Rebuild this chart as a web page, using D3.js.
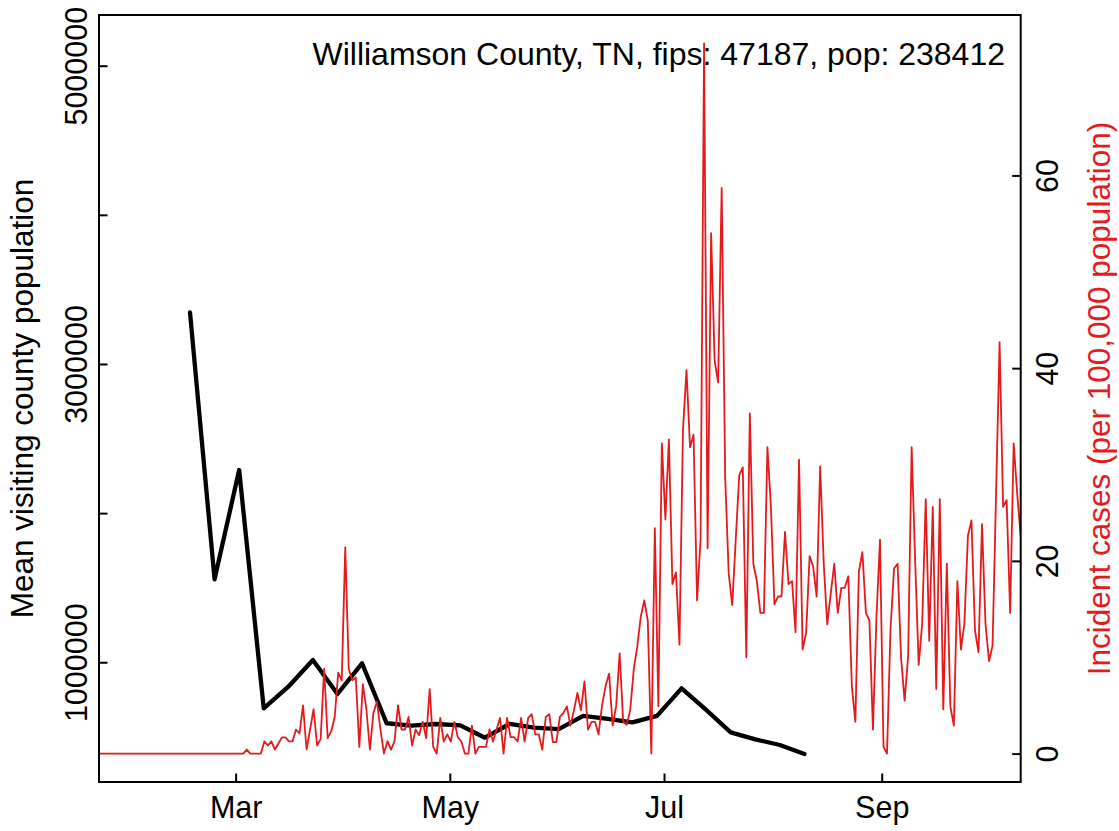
<!DOCTYPE html>
<html>
<head>
<meta charset="utf-8">
<title>Williamson County</title>
<script src="https://d3js.org/d3.v7.min.js"></script>
<style>
  body { margin: 0; background: #fff; }
  text { font-family: "Liberation Sans", Arial, Helvetica, sans-serif; }
</style>
</head>
<body>
<script>
// weekly mean visiting county population (black)
const popStart = new Date(2020, 1, 17)
const popValues = [3346000, 1556000, 2289000, 691000, 836000, 1015000, 787000, 993000, 591000, 575000,
  586000, 577000, 494000, 586000, 561000, 552000, 640000, 620000, 597000, 640000,
  825000, 680000, 530000, 483000, 445000, 385000]

// daily incident cases per 100,000 (red), from Jan 22
const caseStart = new Date(2020, 0, 22)
const caseValues = [
  0, 0, 0, 0, 0, 0, 0, 0, 0, 0, 0, 0, 0, 0, 0, 0, 0, 0, 0, 0, 0,
  0, 0, 0, 0, 0, 0, 0, 0, 0, 0, 0, 0, 0, 0, 0, 0, 0, 0, 0, 0, 0,
  0.42, 0, 0, 0, 0,
  1.26, 0.84, 1.26, 0.42, 1.05, 1.68, 1.68, 1.26, 1.26, 2.5,
  2.1, 5.0, 0.42, 2.5, 4.6, 0.84, 1.5, 8.8, 1.6, 2.3,
  3.8, 8.4, 7.6, 21.4, 8.8, 7.6, 7.9, 0.7, 7.2, 4.6,
  0.42, 4.2, 5.4, 2.5, 0, 1.3, 0.42, 1.26, 5.0, 2.5,
  2.5, 3.8, 0.84, 2.5, 1.9, 3.3,
  1.6, 6.7, 0.7, 0, 3.7, 1.25, 2.0, 1.25, 3.3, 1.7,
  1.25, 0, 0, 2.9, 0, 0.7, 0.7, 0.7, 2.5, 1.25,
  2.5, 3.7, 0, 3.7, 1.7, 1.7, 1.25, 3.7, 1.25, 3.7,
  4.1, 2.0, 2.0, 0.42, 3.8, 4.1, 1.2, 1.2, 3.8, 4.2,
  4.9, 2.9, 4.5, 6.3, 4.5, 7.5, 2.5, 3.3, 3.3, 2.0,
  5.0, 7.0, 8.3, 2.9,
  4.9, 10.4, 3.3, 3.0, 4.5, 8.7, 11.1, 14.2, 15.9, 13.8,
  0, 23.4, 4.9, 32.2, 24.3, 32.6, 17.6, 18.8, 11.3, 33.6,
  39.8, 31.8, 33.1, 15.9, 22.2, 73.7, 21.3, 54.0, 40.8, 38.5,
  58.7, 28.7, 18.7, 15.4, 22.2, 28.9, 29.7, 10.0, 35.3, 19.7,
  17.9, 14.6, 14.6, 31.8, 25.6, 15.5, 16.3, 16.3, 23.0, 17.6,
  17.9, 12.6, 30.5, 10.8, 12.5, 20.5, 19.4, 16.3, 29.8, 19.8,
  13.4, 16.6, 19.7, 14.6, 17.2, 17.2, 18.4, 7.0, 3.3, 18.9,
  20.9, 14.6, 13.8, 2.5, 14.2, 22.2, 0.7, 0, 13.0, 19.2,
  19.7, 9.9, 5.5, 10.1, 31.8, 20.0, 9.2, 13.5, 26.4, 11.7,
  25.6, 6.7, 26.4, 4.6, 19.7, 4.9, 2.9, 17.9, 10.8, 13.5,
  22.6, 24.2, 12.8, 10.5, 23.8, 13.4, 9.6, 11.2, 27.0, 42.7,
  25.6, 26.3, 14.6, 32.2, 27.0, 22.5]

const monthTicks = [new Date(2020, 2, 1), new Date(2020, 4, 1), new Date(2020, 6, 1), new Date(2020, 8, 1)]
const monthLabels = ["Mar", "May", "Jul", "Sep"]
const popTicks = [1000000, 2000000, 3000000, 4000000, 5000000]
const popLabelled = [1000000, 3000000, 5000000]
const caseTicks = [0, 20, 40, 60]

const title = "Williamson County, TN, fips: 47187, pop: 238412"
const popTitle = "Mean visiting county population"
const caseTitle = "Incident cases (per 100,000 population)"
const red = "#e41a1c"

let w = 1119
let h = 831
let m = {left: 99, right: 1020.7, top: 15, bottom: 782}

let popData = popValues.map((v, i) => ({date: d3.timeDay.offset(popStart, 7 * i), value: v}))
let caseData = caseValues.map((v, i) => ({date: d3.timeDay.offset(caseStart, i), value: v}))

let svg = d3.select("body").append("svg")
  .attr("width", w)
  .attr("height", h)
  .style("background-color", "white")

// main x (black line + axis)
let x = d3.scaleTime()
  .domain([new Date(2020, 0, 22, 2), new Date(2020, 9, 10, 14)])
  .range([m.left, m.right])
// red series is drawn on its own overlay, spanning the box
let xCase = d3.scaleTime()
  .domain(d3.extent(caseData, d => d.date))
  .range([m.left, m.right])

let yPop = d3.scaleLinear().domain([197000, 5340000]).range([m.bottom, m.top])
let maxCase = d3.max(caseValues)
let yCase = d3.scaleLinear().domain([-0.04 * maxCase, 1.04 * maxCase]).range([m.bottom, m.top])

svg.append("clipPath").attr("id", "box")
  .append("rect")
  .attr("x", m.left).attr("y", m.top)
  .attr("width", m.right - m.left).attr("height", m.bottom - m.top)

let plot = svg.append("g").attr("clip-path", "url(#box)")

plot.append("path")
  .datum(popData)
  .attr("fill", "none")
  .attr("stroke", "black")
  .attr("stroke-width", 4.3)
  .attr("stroke-linejoin", "round")
  .attr("stroke-linecap", "round")
  .attr("d", d3.line().x(d => x(d.date)).y(d => yPop(d.value)))

plot.append("path")
  .datum(caseData)
  .attr("fill", "none")
  .attr("stroke", red)
  .attr("stroke-width", 1.8)
  .attr("stroke-linejoin", "round")
  .attr("d", d3.line().x(d => xCase(d.date)).y(d => yCase(d.value)))

// axes, ticks pointing inward like the original
let tickLen = 8.5
let fontSize = 30.5

let xAxis = svg.append("g")
  .attr("transform", `translate(0,${m.bottom})`)
  .call(d3.axisBottom(x).tickValues(monthTicks).tickSize(-tickLen).tickFormat((d, i) => monthLabels[i]))
xAxis.select(".domain").remove()
xAxis.selectAll("text").attr("y", 36).attr("dy", 0).attr("font-size", fontSize).attr("fill", "black")

let leftAxis = svg.append("g")
  .attr("transform", `translate(${m.left},0)`)
  .call(d3.axisLeft(yPop).tickValues(popTicks).tickSize(-tickLen)
    .tickFormat(d => popLabelled.includes(d) ? d3.format("d")(d) : ""))
leftAxis.select(".domain").remove()
leftAxis.selectAll("text")
  .attr("x", null).attr("dy", null)
  .attr("text-anchor", "middle")
  .attr("transform", "translate(-12,0) rotate(-90)")
  .attr("font-size", fontSize).attr("fill", "black")

let rightAxis = svg.append("g")
  .attr("transform", `translate(${m.right},0)`)
  .call(d3.axisRight(yCase).tickValues(caseTicks).tickSize(-tickLen))
rightAxis.select(".domain").remove()
rightAxis.selectAll("text")
  .attr("x", null).attr("dy", null)
  .attr("text-anchor", "middle")
  .attr("transform", "translate(37.5,0) rotate(-90)")
  .attr("font-size", fontSize).attr("fill", "black")

svg.selectAll(".tick line").attr("stroke", "black").attr("stroke-width", 2)

// plot box
svg.append("rect")
  .attr("x", m.left).attr("y", m.top)
  .attr("width", m.right - m.left).attr("height", m.bottom - m.top)
  .attr("fill", "none")
  .attr("stroke", "black")
  .attr("stroke-width", 2)

let mid = (m.top + m.bottom) / 2

svg.append("text")
  .attr("transform", `translate(33,${mid}) rotate(-90)`)
  .attr("text-anchor", "middle")
  .attr("font-size", 31.5)
  .text(popTitle)

svg.append("text")
  .attr("transform", `translate(1110,${mid}) rotate(-90)`)
  .attr("text-anchor", "middle")
  .attr("font-size", 31.5)
  .attr("fill", red)
  .text(caseTitle)

svg.append("text")
  .attr("x", 1005)
  .attr("y", 65)
  .attr("text-anchor", "end")
  .attr("font-size", 32)
  .text(title)
</script>
</body>
</html>
